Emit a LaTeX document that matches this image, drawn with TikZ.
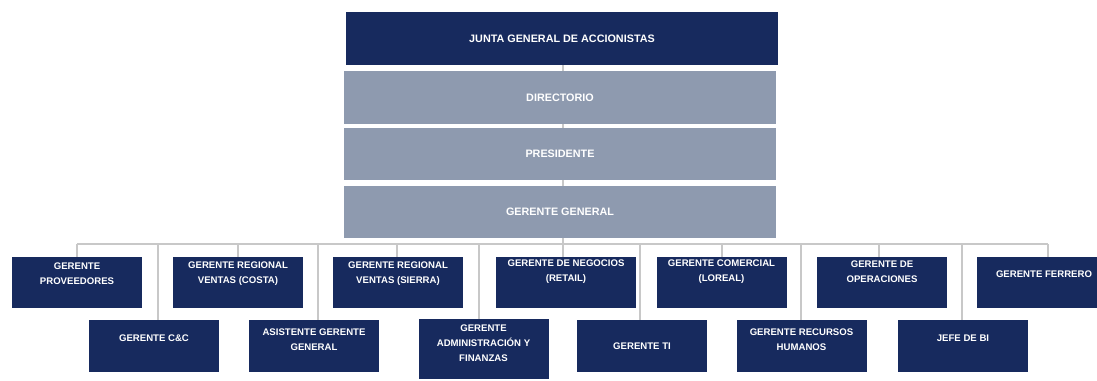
\documentclass[tikz,border=0pt]{standalone}
\usepackage{fontspec}
\setmainfont{Liberation Sans}
\definecolor{navy}{HTML}{172A5E}
\definecolor{slate}{HTML}{8E9AAF}
\definecolor{connc}{HTML}{C8C8C8}
\begin{document}
\begin{tikzpicture}[x=1pt,y=-1pt,
  navybox/.style={rectangle,fill=navy,inner sep=0pt,minimum width=130pt,minimum height=51pt},
  greybox/.style={rectangle,fill=slate,inner sep=0pt,minimum width=432pt,minimum height=52pt},
  txt/.style={text=white,align=center,inner sep=0pt,font=\bfseries\fontsize{9.6}{15}\selectfont},
  bigtxt/.style={txt,font=\bfseries\fontsize{10.8}{15}\selectfont},
  conn/.style={draw=connc,line width=2pt}]
\useasboundingbox (0,0) rectangle (1097,380);
% top stack
\node[navybox,minimum width=432pt,minimum height=53pt] (junta) at (562,38.5) {};
\node[greybox,minimum height=53pt] (dir) at (560,97.5) {};
\node[greybox] (pres) at (560,154) {};
\node[greybox] (gg) at (560,212) {};
% first row
\node[navybox] (prov) at (77,282.5) {};
\node[navybox] (costa) at (238,282.5) {};
\node[navybox] (sierra) at (398,282.5) {};
\node[navybox,minimum width=140pt] (neg) at (566,282.5) {};
\node[navybox] (com) at (721.5,282.5) {};
\node[navybox] (oper) at (882,282.5) {};
\node[navybox,minimum width=134pt] (ferr) at (1044,282.5) {};
% second row
\node[navybox,minimum height=52pt] (cc) at (154,346) {};
\node[navybox,minimum height=52pt] (asis) at (314,346) {};
\node[navybox,minimum height=60pt] (adm) at (483.5,349) {};
\node[navybox,minimum height=52pt] (ti) at (642,346) {};
\node[navybox,minimum height=52pt] (rrhh) at (801.5,346) {};
\node[navybox,minimum height=52pt] (bi) at (963,346) {};
% connectors
\coordinate (busL) at (77,244);
\coordinate (busR) at (1048,244);
\draw[conn] (junta.south -| 563,0) -- (dir.north -| 563,0);
\draw[conn] (dir.south -| 563,0) -- (pres.north -| 563,0);
\draw[conn] (pres.south -| 563,0) -- (gg.north -| 563,0);
\draw[conn] (gg.south -| 563,0) -- (neg.north -| 563,0);
\draw[conn] (busL) -- (busR);
\foreach \n/\x in {prov/77,costa/238,sierra/397,com/722,oper/879,ferr/1048,cc/158,asis/318,adm/479,ti/640,rrhh/801,bi/962}{
  \draw[conn] (\x,244) -- (\n.north -| \x,0);
}
% texts
\path (junta.center) ++(0,0.5) node[bigtxt] {JUNTA GENERAL DE ACCIONISTAS};
\path (dir.center) ++(0,0.5) node[bigtxt] {DIRECTORIO};
\path (pres.center) node[bigtxt] {PRESIDENTE};
\path (gg.center) node[bigtxt] {GERENTE GENERAL};
\path (prov.north) ++(0,16.5) node[txt] {GERENTE\\PROVEEDORES};
\path (costa.north) ++(0,16.5) node[txt] {GERENTE REGIONAL\\VENTAS (COSTA)};
\path (sierra.north) ++(0,16.5) node[txt] {GERENTE REGIONAL\\VENTAS (SIERRA)};
\path (neg.north) ++(0,15) node[txt] {GERENTE DE NEGOCIOS\\(RETAIL)};
\path (com.north) ++(0,15) node[txt] {GERENTE COMERCIAL\\(LOREAL)};
\path (oper.north) ++(0,15) node[txt] {GERENTE DE\\OPERACIONES};
\path (ferr.north) ++(0,17) node[txt] {GERENTE FERRERO};
\path (cc.north) ++(0,18.5) node[txt] {GERENTE C\&C};
\path (asis.north) ++(0,20) node[txt] {ASISTENTE GERENTE\\GENERAL};
\path (adm.north) ++(0,24.5) node[txt] {GERENTE\\ADMINISTRACIÓN Y\\FINANZAS};
\path (ti.north) ++(0,26.5) node[txt] {GERENTE TI};
\path (rrhh.north) ++(0,20) node[txt] {GERENTE RECURSOS\\HUMANOS};
\path (bi.north) ++(0,18.5) node[txt] {JEFE DE BI};
\end{tikzpicture}
\end{document}
